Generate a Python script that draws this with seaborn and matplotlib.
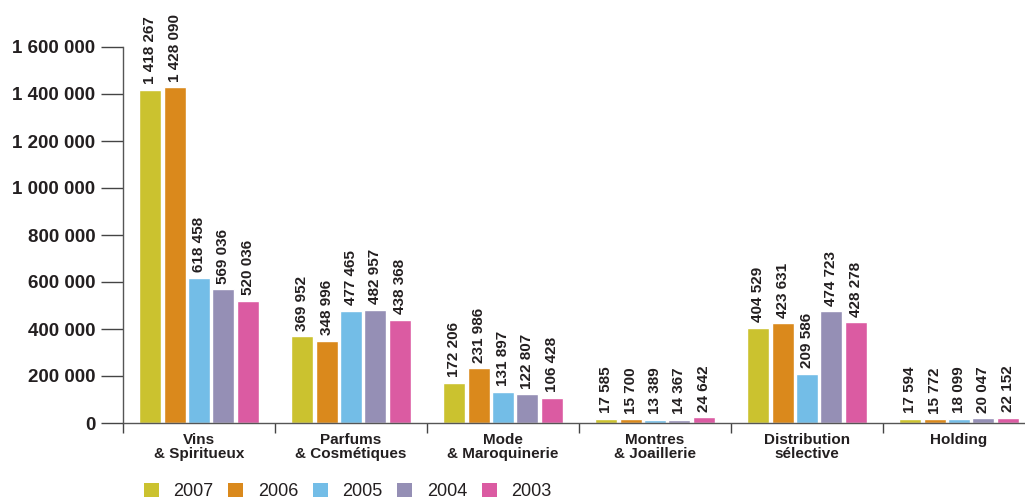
import matplotlib
matplotlib.use("Agg")
import matplotlib.pyplot as plt
import seaborn as sns
import pandas as pd
from matplotlib.ticker import FixedLocator, FuncFormatter
from matplotlib.patches import Patch

categories = ["Vins\n& Spiritueux", "Parfums\n& Cosmétiques", "Mode\n& Maroquinerie",
              "Montres\n& Joaillerie", "Distribution\nsélective", "Holding"]
years = ["2007", "2006", "2005", "2004", "2003"]
v2007 = [1418267, 369952, 172206, 17585, 404529, 17594]
v2006 = [1428090, 348996, 231986, 15700, 423631, 15772]
v2005 = [618458, 477465, 131897, 13389, 209586, 18099]
v2004 = [569036, 482957, 122807, 14367, 474723, 20047]
v2003 = [520036, 438368, 106428, 24642, 428278, 22152]
yticks = [0, 200000, 400000, 600000, 800000, 1000000, 1200000, 1400000, 1600000]
colors = ["#CBC22F", "#DA891C", "#73BDE7", "#958FB5", "#DB5BA2"]

series = [v2007, v2006, v2005, v2004, v2003]
rows = []
for y, vals in zip(years, series):
    for c, v in zip(categories, vals):
        rows.append({"cat": c, "year": y, "value": v})
df = pd.DataFrame(rows)

sns.set_style("white")
plt.rcParams["font.family"] = ["Liberation Sans Narrow", "Liberation Sans", "DejaVu Sans"]
text_color = "#231f20"

fig = plt.figure(figsize=(10.25, 5), dpi=100)
ax = fig.add_axes([123 / 1025, 77 / 500, (1035 - 123) / 1025, (423 - 47) / 500])

sns.barplot(data=df, x="cat", y="value", hue="year", hue_order=years, order=categories,
            palette=colors, width=0.8, gap=0.1, saturation=1, legend=False, ax=ax,
            errorbar=None)

def fmt(v):
    return f"{v:,.0f}".replace(",", " ")

for cont in ax.containers:
    ax.bar_label(cont, labels=[fmt(b.get_height()) for b in cont], rotation=90,
                 padding=4, fontsize=11, fontweight="bold", color=text_color)

ax.set_xlim(-0.5, 5.5)
ax.set_ylim(0, 1600000)
ax.yaxis.set_major_locator(FixedLocator(yticks))
ax.yaxis.set_major_formatter(FuncFormatter(lambda v, p: fmt(v)))
ax.tick_params(axis="y", direction="out", length=16, width=1, color="#444444",
               labelsize=13.5, pad=4, left=True, labelcolor=text_color)
for t in ax.get_yticklabels():
    t.set_fontweight("bold")

ax.set_xticks(range(len(categories)))
ax.set_xticklabels(categories, fontsize=11, fontweight="bold", color=text_color,
                   linespacing=1.0)
ax.tick_params(axis="x", which="major", length=0, pad=7)
ax.set_xticks([i - 0.5 for i in range(len(categories))], minor=True)
ax.tick_params(axis="x", which="minor", direction="out", length=7, width=1,
               color="#444444", bottom=True)

ax.set_xlabel("")
ax.set_ylabel("")
for s in ["top", "right"]:
    ax.spines[s].set_visible(False)
for s in ["left", "bottom"]:
    ax.spines[s].set_color("#555555")
    ax.spines[s].set_linewidth(1)

handles = [Patch(facecolor=c, edgecolor="none") for c in colors]
fig.legend(handles, years, loc="lower left", bbox_to_anchor=(131 / 1025, -0.026),
           ncol=5, frameon=False, fontsize=13, handlelength=0.85, handleheight=0.85,
           handletextpad=0.8, columnspacing=0.8, borderpad=0.2, labelcolor=text_color)

fig.savefig("out.png", dpi=100)
